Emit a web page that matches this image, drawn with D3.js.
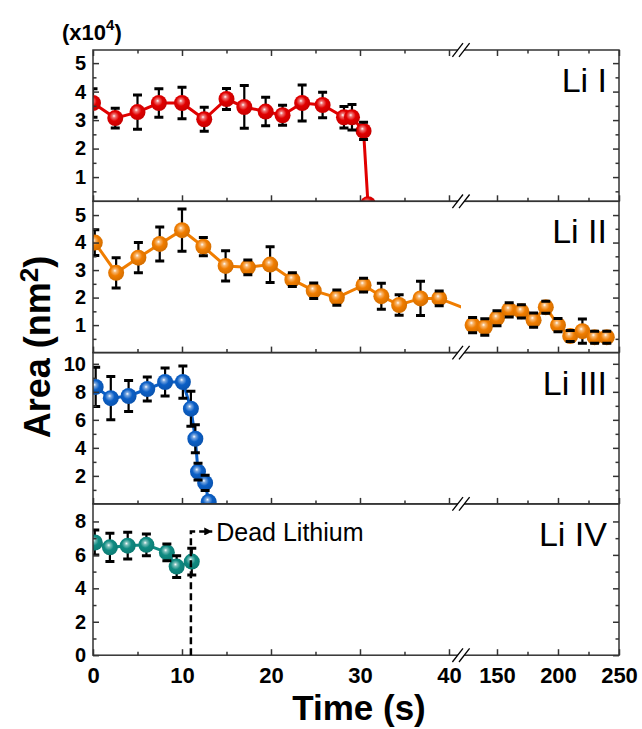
<!DOCTYPE html>
<html>
<head>
<meta charset="utf-8">
<script src="https://cdn.jsdelivr.net/npm/d3@7"></script>
<style>
  body { margin: 0; background: #fff; }
  text { font-family: Arial, "Liberation Sans", sans-serif; }
</style>
</head>
<body>
<div id="chart"></div>
<script>
// Script globals
const CHART_WIDTH = 642
const CHART_HEIGHT = 729

// ---- data ----
// Li I  (area x10^4 nm^2)
const liI_t = [0, 2.5, 5, 7.4, 10, 12.5, 15, 17, 19.4, 21.3, 23.5, 25.8, 28.2, 29.1, 30.4, 30.9]
const liI_v = [3.6, 3.07, 3.28, 3.6, 3.6, 3.03, 3.74, 3.46, 3.3, 3.17, 3.6, 3.53, 3.1, 3.1, 2.62, 0.05]
const liI_e = [0.5, 0.35, 0.6, 0.5, 0.55, 0.42, 0.37, 0.75, 0.5, 0.35, 0.63, 0.45, 0.38, 0.45, 0.3, 0]

// Li II, first part (last point sits inside the axis break)
const liII_t = [0.2, 2.6, 5.1, 7.5, 10, 12.4, 14.9, 17.4, 19.9, 22.4, 24.8, 27.4, 30.4, 32.4, 34.4, 36.8, 38.9, 43]
const liII_v = [4.0, 2.9, 3.45, 3.95, 4.45, 3.85, 3.15, 3.1, 3.2, 2.65, 2.25, 2.0, 2.45, 2.05, 1.73, 1.97, 1.97, 1.45]
const liII_e = [0.47, 0.55, 0.55, 0.62, 0.77, 0.33, 0.55, 0.27, 0.65, 0.25, 0.28, 0.28, 0.25, 0.47, 0.37, 0.62, 0.27, 0]
// Li II, after the break
const liIIb_t = [130, 140, 150, 160, 170, 180, 190, 200, 210, 220, 230, 240]
const liIIb_v = [1.0, 0.93, 1.25, 1.55, 1.5, 1.18, 1.65, 1.0, 0.6, 0.78, 0.56, 0.56]
const liIIb_e = [0.28, 0.3, 0.27, 0.26, 0.24, 0.26, 0.22, 0.24, 0.2, 0.44, 0.22, 0.22]

// Li III
const liIII_t = [0.3, 2.0, 4.0, 6.1, 8.1, 10.1, 11.0, 11.5, 11.8, 12.6, 13.0]
const liIII_v = [8.35, 7.55, 7.7, 8.2, 8.7, 8.7, 6.8, 4.65, 2.3, 1.5, 0.15]
const liIII_e = [1.4, 1.55, 1.1, 0.85, 1.0, 1.15, 1.25, 1.0, 0.6, 0.55, 0]

// Li IV
const liIV_t = [0.2, 1.9, 3.9, 6.0, 8.3, 9.4, 11.1]
const liIV_v = [6.74, 6.45, 6.55, 6.6, 6.15, 5.3, 5.6]
const liIV_e = [0.75, 0.85, 0.8, 0.65, 0.5, 0.65, 0.8]

// dead lithium marker (time, height of the dashed line, arrow end time)
const deadT = 11
const deadTop = 7.4
const deadArrowEnd = 13.4

// axes
const xTicksLeft = [0, 10, 20, 30, 40]
const xMinorLeft = [5, 15, 25, 35]
const xTicksRight = [150, 200, 250]
const xMinorRight = [175, 225]

const panelNames = ["Li I", "Li II", "Li III", "Li IV"]
const panelDomains = [[0.15, 5.46], [0, 5.5], [0, 10.8], [0, 9.05]]
const panelTicks = [[1, 2, 3, 4, 5], [1, 2, 3, 4, 5], [2, 4, 6, 8, 10], [0, 2, 4, 6, 8]]
const panelMinor = [[0.5, 1.5, 2.5, 3.5, 4.5], [0.5, 1.5, 2.5, 3.5, 4.5], [1, 3, 5, 7, 9], [1, 3, 5, 7]]
const panelColors = ["#e10000", "#f07d00", "#0b5fc6", "#0f8b82"]

// ---- layout ----
const marginLeft = 93
const marginRight = 619
const breakX = 461
const panelTop = 50
const panelH = 151.3

const xL = d3.scaleLinear().domain([0, 41.35]).range([marginLeft, breakX])
const xR = d3.scaleLinear().domain([120.5, 250]).range([breakX, marginRight])

const svg = d3.select("#chart").append("svg")
  .attr("width", CHART_WIDTH)
  .attr("height", CHART_HEIGHT)

const defs = svg.append("defs")

// sphere-like marker gradients
panelColors.forEach((c, i) => {
  const g = defs.append("radialGradient")
    .attr("id", "ball" + i)
    .attr("cx", "0.45").attr("cy", "0.42").attr("r", "0.6")
    .attr("fx", "0.42").attr("fy", "0.36")
  g.append("stop").attr("offset", "0").attr("stop-color", "#ffffff")
  g.append("stop").attr("offset", "0.18").attr("stop-color", d3.interpolateRgb("#ffffff", c)(0.55))
  g.append("stop").attr("offset", "0.5").attr("stop-color", c)
  g.append("stop").attr("offset", "1").attr("stop-color", d3.color(c).darker(0.4))
})

defs.append("marker")
  .attr("id", "arrow")
  .attr("viewBox", "0 0 10 10")
  .attr("refX", 10).attr("refY", 5)
  .attr("markerWidth", 9).attr("markerHeight", 8)
  .attr("markerUnits", "userSpaceOnUse")
  .attr("orient", "auto")
  .append("path").attr("d", "M0,0 L10,5 L0,10 Z").attr("fill", "#000")

// series per panel: list of [times, values, errors, segment]
const panelSeries = [
  [[liI_t, liI_v, liI_e, "L"]],
  [[liII_t, liII_v, liII_e, "L"], [liIIb_t, liIIb_v, liIIb_e, "R"]],
  [[liIII_t, liIII_v, liIII_e, "L"]],
  [[liIV_t, liIV_v, liIV_e, "L"]]
]

const axisColor = "#333"

panelNames.forEach((name, p) => {
  const top = panelTop + p * panelH
  const bottom = top + panelH
  const y = d3.scaleLinear().domain(panelDomains[p]).range([bottom, top])
  const g = svg.append("g").attr("class", "panel")
  const col = panelColors[p]

  // clip per segment
  const clipL = "clipL" + p, clipR = "clipR" + p
  defs.append("clipPath").attr("id", clipL).append("rect")
    .attr("x", marginLeft).attr("y", top).attr("width", breakX - marginLeft).attr("height", panelH)
  defs.append("clipPath").attr("id", clipR).append("rect")
    .attr("x", breakX).attr("y", top).attr("width", marginRight - breakX).attr("height", panelH)

  panelSeries[p].forEach(([ts, vs, es, seg]) => {
    const x = seg === "L" ? xL : xR
    const pts = ts.map((t, i) => ({ t: t, v: vs[i], e: es[i] }))
    const shown = pts.filter(d => d.t >= x.domain()[0] && d.t <= x.domain()[1])
    const sg = g.append("g").attr("clip-path", `url(#${seg === "L" ? clipL : clipR})`)

    sg.append("path")
      .datum(pts)
      .attr("fill", "none")
      .attr("stroke", col)
      .attr("stroke-width", 3)
      .attr("d", d3.line().x(d => x(d.t)).y(d => y(d.v)))

    const eb = shown.filter(d => d.e > 0)
    sg.selectAll("line.stem").data(eb).enter().append("line")
      .attr("class", "stem")
      .attr("x1", d => x(d.t)).attr("x2", d => x(d.t))
      .attr("y1", d => y(d.v - d.e)).attr("y2", d => y(d.v + d.e))
      .attr("stroke", "#000").attr("stroke-width", 2.2)

    sg.selectAll("circle").data(shown).enter().append("circle")
      .attr("cx", d => x(d.t))
      .attr("cy", d => y(d.v))
      .attr("r", 8)
      .attr("fill", `url(#ball${p})`)

    for (const sgn of [-1, 1]) {
      sg.selectAll("line.cap" + sgn).data(eb).enter().append("line")
        .attr("x1", d => x(d.t) - 4.5).attr("x2", d => x(d.t) + 4.5)
        .attr("y1", d => y(d.v + sgn * d.e)).attr("y2", d => y(d.v + sgn * d.e))
        .attr("stroke", "#000").attr("stroke-width", 3)
    }
  })

  // frame
  g.append("rect")
    .attr("x", marginLeft).attr("y", top)
    .attr("width", marginRight - marginLeft).attr("height", panelH)
    .attr("fill", "none").attr("stroke", axisColor).attr("stroke-width", 1.5)

  // y axes (inward ticks)
  const yAxisL = g.append("g").attr("class", "yAxis").attr("transform", `translate(${marginLeft},0)`)
    .call(d3.axisLeft(y).tickValues(panelTicks[p]).tickSize(-6).tickPadding(7).tickFormat(d3.format("d")))
  yAxisL.append("g")
    .call(d3.axisLeft(y).tickValues(panelMinor[p]).tickSize(-3.5).tickFormat(""))
  g.append("g").attr("transform", `translate(${marginRight},0)`)
    .call(d3.axisRight(y).tickValues(panelTicks[p]).tickSize(-6).tickFormat(""))
    .append("g")
    .call(d3.axisRight(y).tickValues(panelMinor[p]).tickSize(-3.5).tickFormat(""))

  // x axes at panel bottom (ticks pointing up)
  const last = p === panelNames.length - 1
  for (const [x, major, minor] of [[xL, xTicksLeft, xMinorLeft], [xR, xTicksRight, xMinorRight]]) {
    const xa = g.append("g").attr("class", "xAxis").attr("transform", `translate(0,${bottom})`)
      .call(d3.axisBottom(x).tickValues(major).tickSize(-6).tickPadding(12).tickFormat(last ? d3.format("d") : ""))
    xa.append("g").call(d3.axisBottom(x).tickValues(minor).tickSize(-3.5).tickFormat(""))
    if (p === 0) {
      g.append("g").attr("transform", `translate(0,${top})`)
        .call(d3.axisTop(x).tickValues(major).tickSize(-6).tickFormat(""))
        .append("g").call(d3.axisTop(x).tickValues(minor).tickSize(-3.5).tickFormat(""))
    }
  }

  // panel name
  g.append("text")
    .attr("x", 607).attr("y", top + 42)
    .attr("text-anchor", "end")
    .attr("font-size", 34)
    .text(name)
})

// style axes
svg.selectAll(".domain").remove()
svg.selectAll(".tick line").attr("stroke", axisColor).attr("stroke-width", 1.5)
svg.selectAll(".yAxis .tick text")
  .attr("font-size", 20).attr("font-weight", "bold").attr("fill", "#000")
svg.selectAll(".xAxis .tick text")
  .attr("font-size", 22).attr("font-weight", "bold").attr("fill", "#000")

// axis break marks
const breakYs = d3.range(panelNames.length + 1).map(i => panelTop + i * panelH)
breakYs.forEach(by => {
  const dx = 5.3, dy = 6.8, off = 3.3
  svg.append("path")
    .attr("d", `M${breakX - off - dx},${by + dy} L${breakX - off + dx},${by - dy} L${breakX + off + dx},${by - dy} L${breakX + off - dx},${by + dy} Z`)
    .attr("fill", "#fff")
  for (const o of [-off, off]) {
    svg.append("line")
      .attr("x1", breakX + o - dx).attr("y1", by + dy)
      .attr("x2", breakX + o + dx).attr("y2", by - dy)
      .attr("stroke", "#000").attr("stroke-width", 1.3)
  }
})

// dead lithium annotation (panel 4)
const y4 = d3.scaleLinear().domain(panelDomains[3]).range([panelTop + 4 * panelH, panelTop + 3 * panelH])
svg.append("path")
  .attr("d", d3.line()([[xL(deadT), y4(0)], [xL(deadT), y4(deadTop)], [xL(deadArrowEnd), y4(deadTop)]]))
  .attr("fill", "none")
  .attr("stroke", "#000")
  .attr("stroke-width", 2.5)
  .attr("stroke-dasharray", "7,4")
  .attr("marker-end", "url(#arrow)")
svg.append("text")
  .attr("x", xL(deadArrowEnd) + 4).attr("y", y4(deadTop) + 10)
  .attr("font-size", 25)
  .text("Dead Lithium")

// axis titles
svg.append("text")
  .attr("x", 359).attr("y", 720)
  .attr("text-anchor", "middle")
  .attr("font-size", 35).attr("font-weight", "bold")
  .text("Time (s)")

const yTitle = svg.append("text")
  .attr("transform", "translate(50,347) rotate(-90)")
  .attr("text-anchor", "middle")
  .attr("font-size", 36).attr("font-weight", "bold")
yTitle.append("tspan").text("Area (nm")
yTitle.append("tspan").attr("font-size", 26).attr("dy", -12).text("2")
yTitle.append("tspan").attr("dy", 12).text(")")

const mult = svg.append("text")
  .attr("x", 62).attr("y", 40)
  .attr("font-size", 22).attr("font-weight", "bold")
mult.append("tspan").text("(x10")
mult.append("tspan").attr("font-size", 15).attr("dy", -10).text("4")
mult.append("tspan").attr("dy", 10).text(")")
</script>
</body>
</html>
